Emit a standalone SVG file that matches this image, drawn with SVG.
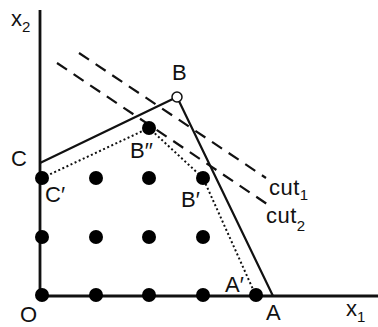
<svg xmlns="http://www.w3.org/2000/svg" width="378" height="327" viewBox="0 0 378 327">
<style>
.lbl{font-family:"Liberation Sans",Arial,sans-serif;font-size:22px;fill:#111}
.sub{font-size:15px}
.axis{stroke:#111;stroke-width:2.8;fill:none}
.edge{stroke:#111;stroke-width:2.2;fill:none}
.dot{stroke:#111;stroke-width:2;stroke-dasharray:2 2.5;fill:none}
.cut{stroke:#111;stroke-width:2.2;stroke-dasharray:12 8;fill:none}
.pt{fill:#000}
</style>
<rect width="378" height="327" fill="#fff"/>
<g id="connectors">
<line class="axis" x1="40" y1="10" x2="40" y2="296"/>
<line class="axis" x1="40" y1="296" x2="378" y2="296"/>
<polyline class="edge" points="40,163 177,97 273,296"/>
<polyline class="dot" points="42,178 149,128 203,178 256,296"/>
<line class="cut" x1="79" y1="53" x2="266" y2="178"/>
<line class="cut" x1="57" y1="63" x2="270" y2="206"/>
</g>
<g id="points">
<circle class="pt" cx="42" cy="178" r="7"/>
<circle class="pt" cx="96" cy="178" r="7"/>
<circle class="pt" cx="149" cy="178" r="7"/>
<circle class="pt" cx="203" cy="178" r="7"/>
<circle class="pt" cx="42" cy="237" r="7"/>
<circle class="pt" cx="96" cy="237" r="7"/>
<circle class="pt" cx="149" cy="237" r="7"/>
<circle class="pt" cx="203" cy="237" r="7"/>
<circle class="pt" cx="42" cy="295" r="7"/>
<circle class="pt" cx="96" cy="295" r="7"/>
<circle class="pt" cx="149" cy="295" r="7"/>
<circle class="pt" cx="203" cy="295" r="7"/>
<circle class="pt" cx="256" cy="295" r="7"/>
<circle class="pt" cx="149" cy="128" r="7"/>
</g>
<g id="B"><circle cx="177" cy="97" r="5" fill="#fff" stroke="#111" stroke-width="1.5"/><text class="lbl" x="172" y="80">B</text></g>
<g id="C"><text class="lbl" x="11" y="166">C</text></g>
<g id="Cp"><text class="lbl" x="45" y="202">C′</text></g>
<g id="Bpp"><text class="lbl" x="130" y="158">B′′</text></g>
<g id="Bp"><text class="lbl" x="181" y="207">B′</text></g>
<g id="Ap"><text class="lbl" x="225" y="292">A′</text></g>
<g id="A"><text class="lbl" x="266" y="320">A</text></g>
<g id="O"><text class="lbl" x="20" y="322">O</text></g>
<g id="x1"><text class="lbl" x="346" y="316">x<tspan class="sub" dy="6">1</tspan></text></g>
<g id="x2"><text class="lbl" x="11" y="26">x<tspan class="sub" dy="6">2</tspan></text></g>
<g id="cut1"><text class="lbl" x="269" y="195" letter-spacing="0.5">cut<tspan class="sub" dy="5" letter-spacing="0">1</tspan></text></g>
<g id="cut2"><text class="lbl" x="266" y="223" letter-spacing="0.5">cut<tspan class="sub" dy="8" letter-spacing="0">2</tspan></text></g>
</svg>
